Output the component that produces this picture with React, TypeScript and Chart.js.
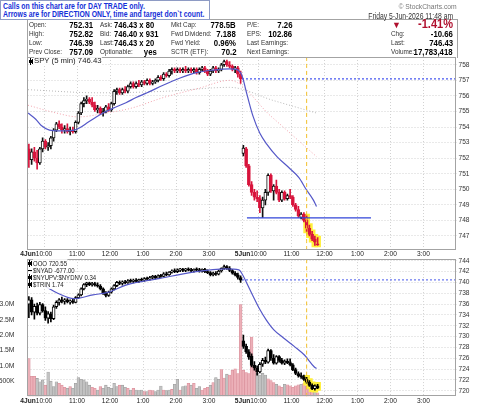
import React, { useEffect, useRef } from "react";
import { Chart, registerables } from "chart.js";

Chart.register(...registerables);

const FONT = '"Liberation Sans", Arial, Helvetica, sans-serif';

// ---------- SPY 5-minute bars [open, high, low, close] ----------
const spyDay1: number[][] = [
  [752.6, 752.9, 751.4, 751.9], [751.9, 752.6, 751.6, 752.4], [752.4, 752.7, 751.8, 752.0], [752.0, 752.5, 751.3, 751.7],
  [751.7, 752.7, 751.6, 752.6], [752.6, 753.3, 752.4, 753.1], [753.1, 753.2, 752.6, 752.7], [752.7, 753.0, 752.5, 752.8],
  [752.8, 753.4, 752.6, 753.3], [753.3, 753.9, 753.1, 753.8], [753.8, 754.3, 753.7, 754.2], [754.2, 754.4, 753.9, 754.0],
  [754.0, 754.2, 753.6, 753.8], [753.8, 754.1, 753.6, 753.9], [753.9, 754.2, 753.6, 753.7], [753.7, 754.0, 753.5, 753.8],
  [753.8, 754.0, 753.6, 753.7], [753.7, 754.4, 753.6, 754.3], [754.3, 755.0, 754.2, 754.9], [754.9, 755.6, 754.8, 755.5],
  [755.5, 755.9, 755.3, 755.7], [755.7, 756.0, 755.5, 755.8], [755.8, 755.9, 755.5, 755.6], [755.6, 755.9, 755.3, 755.4],
  [755.4, 755.6, 755.0, 755.1], [755.1, 755.4, 754.9, 755.2], [755.2, 755.3, 754.8, 754.9], [754.9, 755.2, 754.7, 755.0],
  [755.0, 755.4, 754.9, 755.3], [755.3, 755.5, 755.0, 755.1], [755.1, 755.6, 755.0, 755.5], [755.5, 756.4, 755.4, 756.3],
  [756.3, 756.5, 756.1, 756.4], [756.4, 756.5, 756.1, 756.2], [756.2, 756.5, 756.1, 756.4], [756.4, 756.6, 756.2, 756.3],
  [756.3, 756.7, 756.2, 756.6], [756.6, 756.9, 756.5, 756.8], [756.8, 756.9, 756.5, 756.6], [756.6, 756.9, 756.5, 756.8],
  [756.8, 757.0, 756.6, 756.7], [756.7, 757.0, 756.6, 756.9], [756.9, 757.0, 756.7, 756.8], [756.8, 757.1, 756.7, 757.0],
  [757.0, 757.1, 756.7, 756.8], [756.8, 757.0, 756.7, 756.9], [756.9, 757.1, 756.8, 757.0], [757.0, 757.3, 756.9, 757.2],
  [757.2, 757.3, 757.0, 757.1], [757.1, 757.5, 757.0, 757.4], [757.4, 757.5, 757.2, 757.3], [757.3, 757.7, 757.2, 757.6],
  [757.6, 757.8, 757.4, 757.7], [757.7, 757.8, 757.5, 757.6], [757.6, 757.8, 757.5, 757.7], [757.7, 757.8, 757.5, 757.6],
  [757.6, 757.8, 757.5, 757.7], [757.7, 757.9, 757.5, 757.6], [757.6, 757.8, 757.5, 757.7], [757.7, 757.8, 757.5, 757.6],
  [757.6, 757.8, 757.5, 757.7], [757.7, 757.8, 757.4, 757.5], [757.5, 757.8, 757.4, 757.7], [757.7, 757.9, 757.6, 757.8],
  [757.8, 757.9, 757.5, 757.6], [757.6, 757.7, 757.3, 757.4], [757.4, 757.7, 757.3, 757.6], [757.6, 757.9, 757.5, 757.8],
  [757.8, 757.9, 757.5, 757.6], [757.6, 757.8, 757.5, 757.7], [757.7, 758.1, 757.6, 758.0], [758.0, 758.3, 757.9, 758.2],
  [758.2, 758.3, 757.9, 758.0], [758.0, 758.2, 757.8, 757.9], [757.9, 758.0, 757.6, 757.7], [757.7, 757.9, 757.5, 757.8],
  [757.8, 757.9, 757.2, 757.4], [757.4, 757.6, 756.8, 757.09],
];
const spyDay2: number[][] = [
  [752.31, 752.82, 752.15, 752.65], [752.6, 752.7, 751.4, 751.5], [751.5, 751.6, 750.2, 750.3], [750.3, 750.5, 749.6, 749.8],
  [749.8, 750.0, 749.3, 749.5], [749.5, 749.9, 749.2, 749.4], [749.4, 749.6, 748.5, 748.8], [748.8, 749.5, 748.2, 749.3],
  [749.3, 750.0, 749.0, 749.8], [749.8, 751.0, 749.6, 750.9], [750.9, 751.0, 749.8, 749.9], [749.9, 750.3, 749.3, 750.2],
  [750.2, 750.6, 749.7, 749.8], [749.8, 750.0, 749.2, 749.3], [749.3, 749.9, 749.2, 749.8], [749.8, 749.9, 749.3, 749.4],
  [749.4, 749.7, 749.3, 749.6], [749.6, 750.0, 749.4, 749.5], [749.5, 749.6, 748.9, 749.0], [749.0, 749.1, 748.6, 748.7],
  [748.7, 748.9, 748.2, 748.3], [748.2, 748.5, 748.1, 748.4], [748.4, 748.5, 747.9, 748.0], [748.0, 748.3, 747.3, 747.5],
  [747.5, 747.7, 747.0, 747.1], [747.1, 747.3, 746.7, 746.8], [746.8, 747.0, 746.4, 746.6], [746.5, 746.9, 746.39, 746.43],
];

// ---------- QQQ 5-minute bars [open, high, low, close] ----------
const qqqDay1: number[][] = [
  [736.0, 737.4, 733.5, 736.8], [736.8, 737.2, 734.0, 734.5], [734.5, 736.0, 733.2, 735.6], [735.6, 736.2, 734.0, 734.3],
  [734.3, 736.3, 734.0, 735.9], [735.9, 736.1, 734.5, 734.8], [734.8, 735.5, 733.0, 733.4], [733.4, 734.6, 732.5, 734.2],
  [734.2, 734.5, 732.7, 733.3], [733.3, 735.8, 733.1, 735.5], [735.5, 736.6, 735.2, 736.3], [736.3, 737.0, 735.8, 736.8],
  [736.8, 737.3, 736.2, 736.5], [736.5, 737.0, 736.0, 736.8], [736.8, 737.0, 736.2, 736.4], [736.4, 736.8, 736.0, 736.6],
  [736.6, 736.9, 736.1, 736.3], [736.3, 737.4, 736.2, 737.2], [737.2, 737.9, 737.0, 737.7], [737.7, 739.0, 737.5, 738.8],
  [738.8, 739.8, 738.6, 739.6], [739.6, 740.1, 739.2, 739.9], [739.9, 740.2, 739.4, 739.6], [739.6, 740.0, 739.3, 739.8],
  [739.8, 740.1, 739.3, 739.5], [739.5, 739.9, 739.1, 739.3], [739.3, 739.6, 738.6, 738.8], [738.8, 739.0, 737.8, 738.0],
  [738.0, 738.3, 737.3, 737.6], [737.6, 738.4, 737.4, 738.2], [738.2, 739.0, 738.0, 738.8], [738.8, 739.6, 738.6, 739.4],
  [739.4, 740.2, 739.2, 740.0], [740.0, 740.3, 739.6, 739.8], [739.8, 740.3, 739.5, 740.1], [740.1, 740.4, 739.7, 739.9],
  [739.9, 740.5, 739.8, 740.3], [740.3, 740.6, 740.0, 740.2], [740.2, 740.6, 739.9, 740.4], [740.4, 740.7, 740.0, 740.2],
  [740.2, 740.6, 740.0, 740.5], [740.5, 740.8, 740.2, 740.4], [740.4, 740.9, 740.2, 740.7], [740.7, 741.0, 740.4, 740.6],
  [740.6, 741.1, 740.4, 740.9], [740.9, 741.3, 740.7, 741.1], [741.1, 741.3, 740.6, 740.8], [740.8, 741.4, 740.7, 741.2],
  [741.2, 741.5, 740.9, 741.1], [741.1, 741.8, 741.0, 741.6], [741.6, 741.9, 741.2, 741.4], [741.4, 742.0, 741.3, 741.9],
  [741.9, 742.3, 741.7, 742.1], [742.1, 742.5, 741.8, 742.0], [742.0, 742.5, 741.8, 742.3], [742.3, 742.6, 742.0, 742.4],
  [742.4, 742.6, 742.0, 742.2], [742.2, 742.6, 742.0, 742.5], [742.5, 742.7, 742.1, 742.3], [742.3, 742.6, 742.0, 742.1],
  [742.1, 742.5, 741.9, 742.4], [742.4, 742.7, 742.1, 742.3], [742.3, 742.6, 741.9, 742.1], [742.1, 742.5, 741.9, 742.4],
  [742.4, 742.6, 741.8, 742.0], [742.0, 742.3, 741.6, 741.8], [741.8, 742.0, 741.2, 741.4], [741.4, 741.9, 741.2, 741.7],
  [741.7, 742.0, 741.3, 741.5], [741.5, 742.3, 741.4, 742.1], [742.1, 742.7, 741.9, 742.6], [742.6, 743.2, 742.4, 742.9],
  [742.9, 743.1, 742.4, 742.6], [742.6, 742.9, 742.0, 742.2], [742.2, 742.4, 741.5, 741.7], [741.7, 742.0, 741.2, 741.4],
  [741.4, 741.7, 740.6, 740.9], [740.9, 741.2, 740.0, 740.4],
];
const qqqDay2: number[][] = [
  [729.2, 730.3, 727.8, 728.2], [728.2, 728.6, 726.9, 727.2], [727.2, 727.6, 725.8, 726.2], [726.4, 726.8, 724.4, 724.7],
  [724.7, 725.4, 723.8, 724.2], [724.2, 724.6, 722.9, 723.5], [723.5, 725.2, 723.3, 724.9], [724.9, 726.0, 724.5, 725.6],
  [725.6, 726.2, 725.0, 725.3], [725.3, 727.7, 725.1, 727.4], [727.4, 727.6, 725.6, 726.0], [726.0, 726.7, 724.9, 725.1],
  [725.1, 726.5, 724.9, 726.3], [726.3, 726.5, 725.3, 725.6], [725.6, 726.0, 724.9, 725.1], [725.1, 725.7, 724.8, 725.5],
  [725.5, 725.9, 725.0, 725.2], [725.2, 725.9, 724.6, 724.8], [724.8, 725.0, 723.7, 723.9], [723.9, 724.2, 723.0, 723.2],
  [723.2, 723.5, 722.5, 722.8], [722.8, 723.3, 722.3, 722.6], [722.6, 722.9, 721.9, 722.1], [722.1, 722.5, 721.4, 721.6],
  [721.6, 721.9, 720.8, 721.0], [721.0, 721.3, 720.2, 720.4], [720.4, 721.1, 720.1, 720.9], [720.9, 721.2, 720.4, 720.55],
];

// ---------- Volume (millions) and bar direction (p = down, g = up) ----------
const volDay1: number[] = [
  1.24, 0.66, 0.66, 0.59, 0.48, 0.54, 0.37, 0.80, 0.50, 0.32,
  0.48, 0.43, 0.37, 0.30, 0.27, 0.32, 0.27, 0.43, 0.62, 0.56,
  0.54, 0.48, 0.37, 0.30, 0.27, 0.21, 0.32, 0.27, 0.37, 0.30,
  0.27, 0.43, 0.32, 0.37, 0.37, 0.30, 0.27, 0.21, 0.27, 0.21,
  0.19, 0.21, 0.16, 0.16, 0.21, 0.19, 0.16, 0.21, 0.34, 0.21,
  0.19, 0.21, 0.23, 0.40, 0.56, 0.21, 0.32, 0.35, 0.43, 0.37,
  0.43, 0.27, 0.32, 0.21, 0.27, 0.30, 0.37, 0.45, 0.62, 0.56,
  0.88, 0.60, 0.73, 0.70, 0.86, 0.90, 0.75, 3.00,
];
const volDay2: number[] = [
  0.86, 0.78, 0.75, 1.94, 1.00, 0.76, 0.70, 0.76, 0.70, 0.58,
  0.52, 0.45, 0.40, 0.35, 0.30, 0.40, 0.38, 0.35, 0.30, 0.35,
  0.38, 0.40, 0.42, 0.35, 0.30, 0.32, 0.25, 0.12,
];
const volDay1Dir = "pppgggpggg" + "gpppgpgggg" + "gggppgpggg" + "gggpggpgpg" + "ggpgppgggp" + "ggpggpggpg" + "pggpppgpgg" + "ppgppppp";
const volDay2Dir = "pppppggggp" + "ppgppgpppp" + "pgppppgp";

// ---------- moving averages [bar index, value] ----------
const spyMA: number[][] = [
  [-0.3, 754.9], [2.5, 754.5], [4.5, 754.1], [7.5, 753.8], [10.5, 753.75], [13.5, 753.75], [16.5, 753.8],
  [18.5, 753.95], [21.5, 754.3], [24.5, 754.65], [27, 754.9], [30.5, 755.2], [35.3, 755.56], [39, 755.9],
  [43, 756.2], [49, 756.7], [55, 757.15], [61, 757.5], [67, 757.66], [73, 757.74], [75.5, 757.7],
  [77.5, 757.3], [79.3, 756.1], [81.5, 754.7], [84, 753.6], [86.5, 752.9], [90.2, 752.1], [94.5, 751.4],
  [98.2, 750.75], [100.8, 750.0], [103.3, 749.35], [104.6, 748.9],
];
const spySlowMA: number[][] = [
  [-0.3, 756.4], [25, 756.2], [50, 756.3], [73, 756.55], [89, 755.7], [104.6, 754.9],
];
const spyMidMA: number[][] = [
  [-0.3, 755.4], [10, 754.9], [18, 754.65], [28, 754.9], [37, 755.2], [49, 755.9], [62, 756.5],
  [73, 757.0], [88, 754.7], [104.6, 752.1],
];
const qqqMA: number[][] = [
  [6.2, 739.2], [10.5, 738.0], [16.4, 737.0], [23.3, 737.7], [29.1, 738.2], [35.3, 739.5], [47.3, 740.7],
  [59.7, 741.9], [71.7, 742.5], [76.4, 742.3], [77.5, 741.6], [79.3, 739.8], [81.5, 737.5], [84, 735.0],
  [86.3, 733.1], [89, 731.3], [92.5, 729.8], [96.5, 728.2], [100.2, 726.6], [103.8, 724.4], [104.6, 724.1],
];

const spyPrevClose = 757.09;
const qqqPrevClose = 740.45;
const supportLevel = 748.17;
const supportFrom = 79.3;
const supportTo = 124.4;
const callBar = 101;
const highlightBars = [101, 102, 103, 104, 105];

const spyTicks = [747, 748, 749, 750, 751, 752, 753, 754, 755, 756, 757, 758];
const qqqTicks = [720, 722, 724, 726, 728, 730, 732, 734, 736, 738, 740, 742, 744];
const volTicks = [0.5, 1, 1.5, 2, 2.5, 3];
const hourTicks = [5.5, 17.5, 29.5, 41.5, 53.5, 65.5, 83.5, 95.5, 107.5, 119.5, 131.5, 143.5];
const hourLabels = ["10:00", "11:00", "12:00", "1:00", "2:00", "3:00", "10:00", "11:00", "12:00", "1:00", "2:00", "3:00"];
const dayTicks = [-0.5, 77.5];
const dayLabels = ["4Jun", "5Jun"];

const X_MIN = -0.5;
const X_MAX = 155.5;
const SPY_MIN = 746.1, SPY_MAX = 758.5;
const QQQ_MIN = 718.95, QQQ_MAX = 744.3;
const VOL_MAX = 4.48;

const spyBars = [...spyDay1, ...spyDay2];
const qqqBars = [...qqqDay1, ...qqqDay2];
const vols = [...volDay1, ...volDay2];
const volDirs = volDay1Dir + volDay2Dir;

const framePlugin = {
  id: "frame",
  afterDraw(chart: any) {
    const { ctx, chartArea: a } = chart;
    ctx.save();
    ctx.strokeStyle = "#a3a3a3";
    ctx.lineWidth = 1;
    const l = Math.floor(a.left) + 0.5, t = Math.floor(a.top) + 0.5;
    const r = Math.floor(a.right) - 0.5, b = Math.floor(a.bottom) - 0.5;
    ctx.strokeRect(l, t, r - l, b - t);
    ctx.restore();
  },
};

const xLabelPlugin = {
  id: "xlabels",
  afterDraw(chart: any) {
    const { ctx, chartArea: a, scales } = chart;
    const xs = scales.x;
    const y = a.bottom + 4.2;
    ctx.save();
    ctx.fillStyle = "#222";
    ctx.textBaseline = "middle";
    ctx.textAlign = "center";
    ctx.font = `6.6px ${FONT}`;
    hourTicks.forEach((t, k) => ctx.fillText(hourLabels[k], xs.getPixelForValue(t), y));
    ctx.font = `bold 6.6px ${FONT}`;
    dayTicks.forEach((t, k) => ctx.fillText(dayLabels[k], xs.getPixelForValue(t) + 0.5, y));
    ctx.restore();
  },
};

function candleSets(bars: number[][], upColor: string, downColor: string, pad: number) {
  const up = (b: number[]) => b[3] >= b[0];
  return [
    {
      type: "bar", data: highlightBars.map((i) => ({ x: i, y: [bars[i][2] - pad, bars[i][1] + pad] })),
      backgroundColor: "#fff03a", barThickness: 6, grouped: false, order: 8, yAxisID: "y",
    },
    {
      type: "bar", data: bars.map((b, i) => ({ x: i, y: [b[2], b[1]] })),
      backgroundColor: bars.map((b) => (up(b) ? upColor : downColor)), barThickness: 1, grouped: false, order: 5, yAxisID: "y",
    },
    {
      type: "bar", data: bars.map((b, i) => ({ x: i, y: [b[0], b[3]] })),
      backgroundColor: bars.map((b) => (up(b) ? "#ffffff" : downColor)),
      borderColor: bars.map((b) => (up(b) ? upColor : downColor)),
      borderWidth: 1, borderSkipped: false, barThickness: 3, minBarLength: 1, grouped: false, order: 4, yAxisID: "y",
    },
  ];
}

function lineSet(points: number[][], color: string, width: number, dash: number[], order: number, yAxisID = "y") {
  return {
    type: "line", data: points.map(([x, y]) => ({ x, y })), borderColor: color, borderWidth: width,
    borderDash: dash, pointRadius: 0, fill: false, cubicInterpolationMode: "monotone", order, yAxisID,
  };
}

function xScale(height: number) {
  return {
    type: "linear", min: X_MIN, max: X_MAX, offset: false,
    afterBuildTicks: (s: any) => { s.ticks = [...hourTicks, 77.5].map((v) => ({ value: v })); },
    afterFit: (s: any) => { s.height = height; },
    ticks: { display: false },
    grid: { color: "#d2d2d2", drawTicks: false, offset: false },
    border: { display: false, dash: [1, 2] },
  };
}

function upperConfig(): any {
  const datasets = [
    lineSet([[callBar, SPY_MIN], [callBar, SPY_MAX]], "#f2c12e", 1, [4, 3], 0),
    lineSet([[supportFrom, supportLevel], [supportTo, supportLevel]], "#3045d8", 1.3, [], 1),
    lineSet(spyMA, "#5558c8", 1.2, [], 2),
    ...candleSets(spyBars, "#111111", "#d8143c", 0.1),
    lineSet([[77.5, spyPrevClose], [X_MAX, spyPrevClose]], "#4656f0", 1.2, [2, 2], 9),
    lineSet(spySlowMA, "#b9b9b9", 1, [1, 2], 10),
    lineSet(spyMidMA, "#f2a4ae", 1, [1, 2], 10),
  ];
  return {
    type: "bar",
    data: { datasets },
    options: {
      responsive: false, animation: false, devicePixelRatio: 1, events: [],
      layout: { padding: { left: 27.5, top: 57, right: 0, bottom: 0 } },
      plugins: { legend: { display: false }, tooltip: { enabled: false } },
      scales: {
        x: xScale(12),
        y: {
          type: "linear", position: "right", min: SPY_MIN, max: SPY_MAX,
          afterBuildTicks: (s: any) => { s.ticks = spyTicks.map((v) => ({ value: v })); },
          afterFit: (s: any) => { s.width = 23.5; },
          ticks: { font: { size: 6.6, family: FONT }, color: "#333", padding: 2, callback: (v: any) => String(v) },
          grid: { color: "#d2d2d2", drawTicks: false },
          border: { display: false, dash: [1, 2] },
        },
      },
    },
    plugins: [framePlugin, xLabelPlugin],
  };
}

function fmtVol(v: number) {
  return v < 1 ? `${Math.round(v * 1000)}K` : `${v.toFixed(1)}M`;
}

function lowerConfig(): any {
  const datasets = [
    lineSet([[callBar, QQQ_MIN], [callBar, QQQ_MAX]], "#f2c12e", 1, [4, 3], 0),
    lineSet(qqqMA, "#5558c8", 1.2, [], 2),
    ...candleSets(qqqBars, "#000000", "#000000", 0.35),
    lineSet([[77.5, qqqPrevClose], [X_MAX, qqqPrevClose]], "#6a78f0", 1.2, [2, 2], 9),
    {
      type: "bar", data: vols.map((v, i) => ({ x: i, y: v })), yAxisID: "yv",
      backgroundColor: vols.map((_, i) => (volDirs[i] === "p" ? "#ecb0b8" : "#c2c2c2")),
      borderColor: vols.map((_, i) => (volDirs[i] === "p" ? "#d98d99" : "#9c9c9c")),
      borderWidth: 0.6, borderSkipped: "start", barThickness: 2.7, grouped: false, order: 20,
    },
  ];
  return {
    type: "bar",
    data: { datasets },
    options: {
      responsive: false, animation: false, devicePixelRatio: 1, events: [],
      layout: { padding: { left: 0, top: 8.5, right: 0, bottom: 0 } },
      plugins: { legend: { display: false }, tooltip: { enabled: false } },
      scales: {
        x: xScale(9.5),
        y: {
          type: "linear", position: "right", min: QQQ_MIN, max: QQQ_MAX,
          afterBuildTicks: (s: any) => { s.ticks = qqqTicks.map((v) => ({ value: v })); },
          afterFit: (s: any) => { s.width = 23.5; },
          ticks: { font: { size: 6.6, family: FONT }, color: "#333", padding: 2, callback: (v: any) => String(v) },
          grid: { color: "#d2d2d2", drawTicks: false },
          border: { display: false, dash: [1, 2] },
        },
        yv: {
          type: "linear", position: "left", min: 0, max: VOL_MAX,
          afterBuildTicks: (s: any) => { s.ticks = volTicks.map((v) => ({ value: v })); },
          afterFit: (s: any) => { s.width = 27.5; },
          ticks: { font: { size: 6.8, family: FONT }, color: "#333", padding: 5, callback: (v: any) => fmtVol(Number(v)) },
          grid: { display: false },
          border: { display: false },
        },
      },
    },
    plugins: [framePlugin, xLabelPlugin],
  };
}

type TP = {
  x: number; y: number; s: string; size?: number; bold?: boolean; color?: string;
  align?: "left" | "right"; sx?: number; bg?: string;
};
function T({ x, y, s, size = 8, bold = false, color = "#222", align = "left", sx = 0.8, bg }: TP) {
  const st: React.CSSProperties = {
    position: "absolute", top: y - size * 0.6, whiteSpace: "nowrap", fontSize: size,
    lineHeight: `${size * 1.2}px`, fontWeight: bold ? 700 : 400, color, fontFamily: FONT,
    transform: `scaleX(${sx})`, transformOrigin: align === "left" ? "left center" : "right center",
    background: bg,
  };
  if (align === "left") st.left = x; else st.right = 480 - x;
  return <div style={st}>{s}</div>;
}

function CandleIcon({ x, y }: { x: number; y: number }) {
  return (
    <div style={{ position: "absolute", left: x, top: y, width: 5, height: 7 }}>
      <div style={{ position: "absolute", left: 1, top: 0, width: 1, height: 7, background: "#000" }} />
      <div style={{ position: "absolute", left: 0, top: 2, width: 3, height: 3, background: "#000" }} />
      <div style={{ position: "absolute", left: 3, top: 1, width: 1, height: 5, background: "#000" }} />
    </div>
  );
}
function LineIcon({ x, y }: { x: number; y: number }) {
  return <div style={{ position: "absolute", left: x, top: y, width: 4, height: 1.5, background: "#000" }} />;
}

export default function App() {
  const topRef = useRef<HTMLCanvasElement>(null);
  const botRef = useRef<HTMLCanvasElement>(null);

  useEffect(() => {
    Chart.defaults.font.family = FONT;
    const c1 = new Chart(topRef.current as HTMLCanvasElement, upperConfig());
    const c2 = new Chart(botRef.current as HTMLCanvasElement, lowerConfig());
    return () => { c1.destroy(); c2.destroy(); };
  }, []);

  const rows = [24.5, 33.6, 42.6, 51.6];
  const lab = (x: number, y: number, s: string) => <T key={s + x} x={x} y={y} s={s} size={8} sx={0.8} color="#333" />;
  const valR = (x: number, y: number, s: string) => <T key={s + x} x={x} y={y} s={s} size={9.5} bold sx={0.82} color="#000" align="right" />;

  return (
    <div style={{ position: "absolute", left: 0, top: 0, width: 480, height: 406, background: "#fff", overflow: "hidden", fontFamily: FONT }}>
      <canvas ref={topRef} width={480} height={262} style={{ position: "absolute", left: 0, top: 0, width: 480, height: 262 }} />
      <canvas ref={botRef} width={480} height={156} style={{ position: "absolute", left: 0, top: 250, width: 480, height: 156 }} />

      {/* info box */}
      <div style={{ position: "absolute", left: 27, top: 19, width: 431, height: 39, boxSizing: "border-box", borderLeft: "1px solid #a3a3a3", borderTop: "1px solid #a3a3a3", borderRight: "1px solid #a3a3a3" }} />

      {/* header note */}
      <div style={{ position: "absolute", left: 0, top: 0, width: 210, height: 20, boxSizing: "border-box", border: "1px solid #8e9bc4", background: "#fff" }} />
      <T x={3} y={5.8} s="Calls on this chart are for DAY TRADE only." size={8.5} bold sx={0.81} color="#1530d8" />
      <T x={3} y={14.2} s="Arrows are for DIRECTION ONLY, time and target don`t count." size={8.5} bold sx={0.81} color="#1530d8" />
      <T x={457} y={6.5} s="© StockCharts.com" size={7.5} sx={0.9} color="#777" align="right" />

      {lab(29, rows[0], "Open:")}{lab(29, rows[1], "High:")}{lab(29, rows[2], "Low:")}{lab(29, rows[3], "Prev Close:")}
      {valR(93.5, rows[0], "752.31")}{valR(93.5, rows[1], "752.82")}{valR(93.5, rows[2], "746.39")}{valR(93.5, rows[3], "757.09")}

      {lab(100, rows[0], "Ask:")}{lab(100, rows[1], "Bid:")}{lab(100, rows[2], "Last:")}{lab(100, rows[3], "Optionable:")}
      <T x={113.5} y={rows[0]} s="746.43 x 80" size={9.5} bold sx={0.8} color="#000" />
      <T x={113.5} y={rows[1]} s="746.40 x 931" size={9.5} bold sx={0.8} color="#000" />
      <T x={113.5} y={rows[2]} s="746.43 x 20" size={9.5} bold sx={0.8} color="#000" />
      {valR(157, rows[3], "yes")}

      {lab(171, rows[0], "Mkt Cap:")}{lab(171, rows[1], "Fwd Dividend:")}{lab(171, rows[2], "Fwd Yield:")}{lab(171, rows[3], "SCTR (ETF):")}
      {valR(236, rows[0], "778.5B")}{valR(236, rows[1], "7.188")}{valR(236, rows[2], "0.96%")}{valR(236, rows[3], "70.2")}

      {lab(247, rows[0], "P/E:")}{lab(247, rows[1], "EPS:")}{lab(247, rows[2], "Last Earnings:")}{lab(247, rows[3], "Next Earnings:")}
      {valR(292, rows[0], "7.26")}{valR(292, rows[1], "102.86")}

      <T x={453} y={16} s="Friday  5-Jun-2026  11:48 am" size={8.5} sx={0.8} color="#333" align="right" />
      <T x={392} y={rows[0] + 0.5} s="▼" size={9} sx={1} color="#b0102e" />
      <T x={453} y={rows[0]} s="-1.41%" size={12} bold sx={0.92} color="#b0102e" align="right" />
      {lab(391, rows[1], "Chg:")}{lab(391, rows[2], "Last:")}{lab(391, rows[3], "Volume:")}
      {valR(453, rows[1], "-10.66")}{valR(453, rows[2], "746.43")}{valR(453, rows[3], "17,783,418")}

      {/* upper legend */}
      <CandleIcon x={29} y={57.5} />
      <T x={34} y={61} s="SPY (5 min) 746.43" size={8} sx={0.97} color="#222" bg="rgba(255,255,255,0.85)" />

      {/* lower legend */}
      <CandleIcon x={28} y={259.5} />
      <T x={33} y={263} s="QQQ 720.55" size={7.5} sx={0.8} color="#222" bg="rgba(255,255,255,0.85)" />
      <LineIcon x={28} y={269.5} />
      <T x={33} y={270} s="$NYAD -677.00" size={7.5} sx={0.8} color="#222" bg="rgba(255,255,255,0.85)" />
      <CandleIcon x={28} y={273.5} />
      <T x={33} y={277} s="$NYUPV:$NYDNV 0.34" size={7.5} sx={0.8} color="#222" bg="rgba(255,255,255,0.85)" />
      <CandleIcon x={28} y={280.5} />
      <T x={33} y={284} s="$TRIN 1.74" size={7.5} sx={0.8} color="#222" bg="rgba(255,255,255,0.85)" />
    </div>
  );
}
